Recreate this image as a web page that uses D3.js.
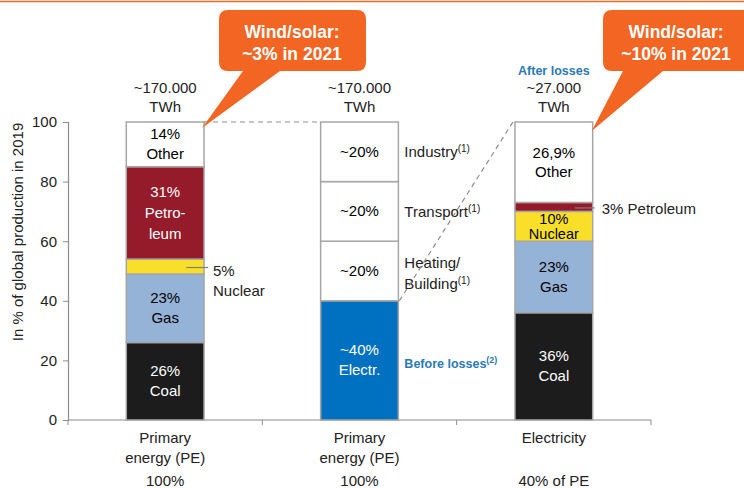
<!DOCTYPE html>
<html>
<head>
<meta charset="utf-8">
<script src="https://cdn.jsdelivr.net/npm/d3@7"></script>
<style>
  body { margin: 0; background: #fff; }
  svg { display: block; font-family: "Liberation Sans", Arial, sans-serif; }
</style>
</head>
<body>
<svg id="chart" width="744" height="488"></svg>
<script>
/* data */
var categories = ["pe", "pe-use", "elec"];
var categoryLines = [["Primary", "energy (PE)"], ["Primary", "energy (PE)"], ["Electricity"]];
var categoryShare = ["100%", "100%", "40% of PE"];
var totalLines = [["~170.000", "TWh"], ["~170.000", "TWh"], ["~27.000", "TWh"]];

var sources = ["Coal", "Gas", "Nuclear", "Petroleum", "Other"];
var sourceColors = ["#1c1c1c", "#95b3d7", "#f9df2a", "#951b2b", "#ffffff"];
var sourceText = ["#fff", "#000", "#000", "#fff", "#000"];

var primaryMix = [26, 23, 5, 31, 15];
var primaryLabels = ["26%", "23%", "5%", "31%", "14%"];

var uses = ["Electr.", "Heating/Building", "Transport", "Industry"];
var usesValues = [40, 20, 20, 20];
var usesLabels = ["~40%", "~20%", "~20%", "~20%"];

var electricityMix = [36, 24, 10, 3, 27];
var electricityLabels = ["36%", "23%", "10%", "3%", "26,9%"];

var yTicks = [0, 20, 40, 60, 80, 100];
var callouts = [["Wind/solar:", "~3% in 2021"], ["Wind/solar:", "~10% in 2021"]];

var svg = d3.select("#chart");
var orange = "#f26522", grey = "#a6a6a6", blueText = "#2a7ab8";

var x = d3.scaleBand().domain(categories).range([68, 651]).padding(0);
var y = d3.scaleLinear().domain([0, 100]).range([420, 122]);
var barW = x.step() * 0.4;
function barX(c) { return x(c) + (x.step() - barW) / 2; }
function mid(c) { return x(c) + x.step() / 2; }

// thin line at the very top
svg.append("line").attr("x1", 0).attr("x2", 744).attr("y1", 1.5).attr("y2", 1.5)
  .attr("stroke", orange).attr("stroke-width", 1.5);

// y axis
var yAxis = svg.append("g").attr("transform", "translate(68,0)")
  .call(d3.axisLeft(y).tickValues(yTicks).tickSize(5).tickPadding(6));
yAxis.select(".domain").attr("stroke", "#8c8c8c").attr("stroke-width", 1.2);
yAxis.selectAll(".tick line").attr("stroke", "#8c8c8c");
yAxis.selectAll("text").attr("font-size", 15).attr("fill", "#222")
  .attr("font-family", "Liberation Sans, Arial, sans-serif");

svg.append("text")
  .attr("transform", "translate(23,232) rotate(-90)")
  .attr("text-anchor", "middle").attr("font-size", 15).attr("fill", "#222")
  .text("In % of global production in 2019");

// x axis with ticks at category boundaries
svg.append("line").attr("x1", 68).attr("x2", 651).attr("y1", 420).attr("y2", 420)
  .attr("stroke", "#8c8c8c").attr("stroke-width", 1.2);
svg.selectAll(".xtick").data(categories.concat(["end"])).enter().append("line")
  .attr("x1", function(d) { return d == "end" ? x.range()[1] : x(d); })
  .attr("x2", function(d) { return d == "end" ? x.range()[1] : x(d); })
  .attr("y1", 420).attr("y2", 425).attr("stroke", "#8c8c8c");

categories.forEach(function(c, i) {
  var t = svg.append("text").attr("text-anchor", "middle").attr("font-size", 15).attr("fill", "#222");
  categoryLines[i].forEach(function(l, j) {
    t.append("tspan").attr("x", mid(c)).attr("y", 443 + j * 20).text(l);
  });
  svg.append("text").attr("x", mid(c)).attr("y", 486).attr("text-anchor", "middle")
    .attr("font-size", 15).attr("fill", "#222").text(categoryShare[i]);
  var tt = svg.append("text").attr("text-anchor", "middle").attr("font-size", 15).attr("fill", "#222");
  totalLines[i].forEach(function(l, j) {
    tt.append("tspan").attr("x", mid(c)).attr("y", 93 + j * 19).text(l);
  });
});

svg.append("text").attr("x", mid("elec")).attr("y", 75).attr("text-anchor", "middle")
  .attr("font-size", 12.5).attr("font-weight", "bold").attr("fill", blueText).text("After losses");

// stacked bars
function stack(values) {
  var acc = 0;
  return values.map(function(v, i) {
    var s = { i: i, y0: acc, y1: acc + v };
    acc += v;
    return s;
  });
}

function drawBar(cat, values, colors) {
  var segs = stack(values);
  svg.append("g").selectAll("rect").data(segs).enter().append("rect")
    .attr("x", barX(cat)).attr("width", barW)
    .attr("y", function(d) { return y(d.y1); })
    .attr("height", function(d) { return y(d.y0) - y(d.y1); })
    .attr("fill", function(d) { return colors[d.i]; })
    .attr("stroke", grey).attr("stroke-width", 1.5);
  return segs;
}

function inLabel(cat, seg, lines, color, gap, size) {
  var cy = (y(seg.y0) + y(seg.y1)) / 2;
  var t = svg.append("text").attr("text-anchor", "middle").attr("font-size", size || 15).attr("fill", color);
  lines.forEach(function(l, j) {
    t.append("tspan").attr("x", mid(cat))
      .attr("y", cy + (j - (lines.length - 1) / 2) * gap + 5).text(l);
  });
}

// bar 1: primary energy mix
var s1 = drawBar("pe", primaryMix, sourceColors);
inLabel("pe", s1[0], [primaryLabels[0], "Coal"], sourceText[0], 20);
inLabel("pe", s1[1], [primaryLabels[1], "Gas"], sourceText[1], 20);
inLabel("pe", s1[3], [primaryLabels[3], "Petro-", "leum"], sourceText[3], 21);
inLabel("pe", s1[4], [primaryLabels[4], "Other"], sourceText[4], 20);
var nucY = (y(s1[2].y0) + y(s1[2].y1)) / 2 + 1;
svg.append("line").attr("x1", mid("pe") + 21).attr("x2", barX("pe") + barW + 4)
  .attr("y1", nucY).attr("y2", nucY).attr("stroke", "#7f7f7f").attr("stroke-width", 1.2);
svg.append("text").attr("x", barX("pe") + barW + 9).attr("y", nucY + 8)
  .attr("font-size", 15).attr("fill", "#222").text(primaryLabels[2]);
svg.append("text").attr("x", barX("pe") + barW + 9).attr("y", nucY + 28)
  .attr("font-size", 15).attr("fill", "#222").text("Nuclear");

// bar 2: uses of primary energy
var s2 = drawBar("pe-use", usesValues, ["#0070c0", "#fff", "#fff", "#fff"]);
inLabel("pe-use", s2[0], [usesLabels[0], uses[0]], "#fff", 20);
[1, 2, 3].forEach(function(i) { inLabel("pe-use", s2[i], [usesLabels[i]], "#000", 20); });

var lx = barX("pe-use") + barW + 6;
function sideLabel(lines, cy, sup) {
  var t = svg.append("text").attr("font-size", 15).attr("fill", "#222");
  lines.forEach(function(l, j) {
    var ts = t.append("tspan").attr("x", lx).attr("y", cy + (j - (lines.length - 1) / 2) * 21 + 5).text(l);
    if (j == lines.length - 1) {
      t.append("tspan").attr("font-size", 10).attr("dy", -5).text(sup);
    }
  });
}
sideLabel(["Industry"], (y(s2[3].y0) + y(s2[3].y1)) / 2, "(1)");
sideLabel(["Transport"], (y(s2[2].y0) + y(s2[2].y1)) / 2 + 1, "(1)");
sideLabel(["Heating/", "Building"], (y(s2[1].y0) + y(s2[1].y1)) / 2 + 2, "(1)");
var bl = svg.append("text").attr("x", lx).attr("y", (y(s2[0].y0) + y(s2[0].y1)) / 2 + 8)
  .attr("font-size", 12.5).attr("font-weight", "bold").attr("fill", blueText).text("Before losses");
bl.append("tspan").attr("font-size", 9).attr("dy", -5).text("(2)");

// bar 3: electricity mix
var s3 = drawBar("elec", electricityMix, sourceColors);
inLabel("elec", s3[0], [electricityLabels[0], "Coal"], sourceText[0], 20);
inLabel("elec", s3[1], [electricityLabels[1], "Gas"], sourceText[1], 20);
inLabel("elec", s3[2], [electricityLabels[2], "Nuclear"], sourceText[2], 15, 14.5);
inLabel("elec", s3[4], [electricityLabels[4], "Other"], sourceText[4], 19);
var petY = (y(s3[3].y0) + y(s3[3].y1)) / 2 + 1;
svg.append("line").attr("x1", mid("elec") + 21).attr("x2", barX("elec") + barW + 2)
  .attr("y1", petY).attr("y2", petY).attr("stroke", "#7f7f7f").attr("stroke-width", 1.2);
svg.append("text").attr("x", barX("elec") + barW + 9).attr("y", petY + 6)
  .attr("font-size", 15).attr("fill", "#222").text(electricityLabels[3] + " Petroleum");

// dashed connectors
svg.append("line").attr("x1", barX("pe") + barW).attr("x2", barX("pe-use"))
  .attr("y1", y(100)).attr("y2", y(100))
  .attr("stroke", "#8c8c8c").attr("stroke-width", 1.2).attr("stroke-dasharray", "5,4");
svg.append("line").attr("x1", barX("pe-use") + barW + 1).attr("y1", y(40))
  .attr("x2", barX("elec") - 2).attr("y2", y(100))
  .attr("stroke", "#8c8c8c").attr("stroke-width", 1.2).attr("stroke-dasharray", "5,4");

// orange speech-bubble callouts
function callout(x0, x1, y0, y1, b0, b1, tip, cx, lines) {
  var r = 9;
  var p = d3.path();
  p.moveTo(x0 + r, y0);
  p.lineTo(x1 - r, y0); p.quadraticCurveTo(x1, y0, x1, y0 + r);
  p.lineTo(x1, y1 - r); p.quadraticCurveTo(x1, y1, x1 - r, y1);
  p.lineTo(b1, y1); p.lineTo(tip[0], tip[1]); p.lineTo(b0, y1);
  p.lineTo(x0 + r, y1); p.quadraticCurveTo(x0, y1, x0, y1 - r);
  p.lineTo(x0, y0 + r); p.quadraticCurveTo(x0, y0, x0 + r, y0);
  p.closePath();
  svg.append("path").attr("d", p.toString()).attr("fill", orange);
  var t = svg.append("text").attr("text-anchor", "middle").attr("font-size", 17.5)
    .attr("font-weight", "bold").attr("fill", "#fff");
  lines.forEach(function(l, j) {
    t.append("tspan").attr("x", cx).attr("y", 38 + j * 22).text(l);
  });
}
callout(219, 366, 10, 71, 243, 280, [barX("pe") + barW - 2, y(98)], 292, callouts[0]);
callout(603, 752, 10, 71, 623, 663, [barX("elec") + barW - 1, y(97)], 676, callouts[1]);
</script>
</body>
</html>
